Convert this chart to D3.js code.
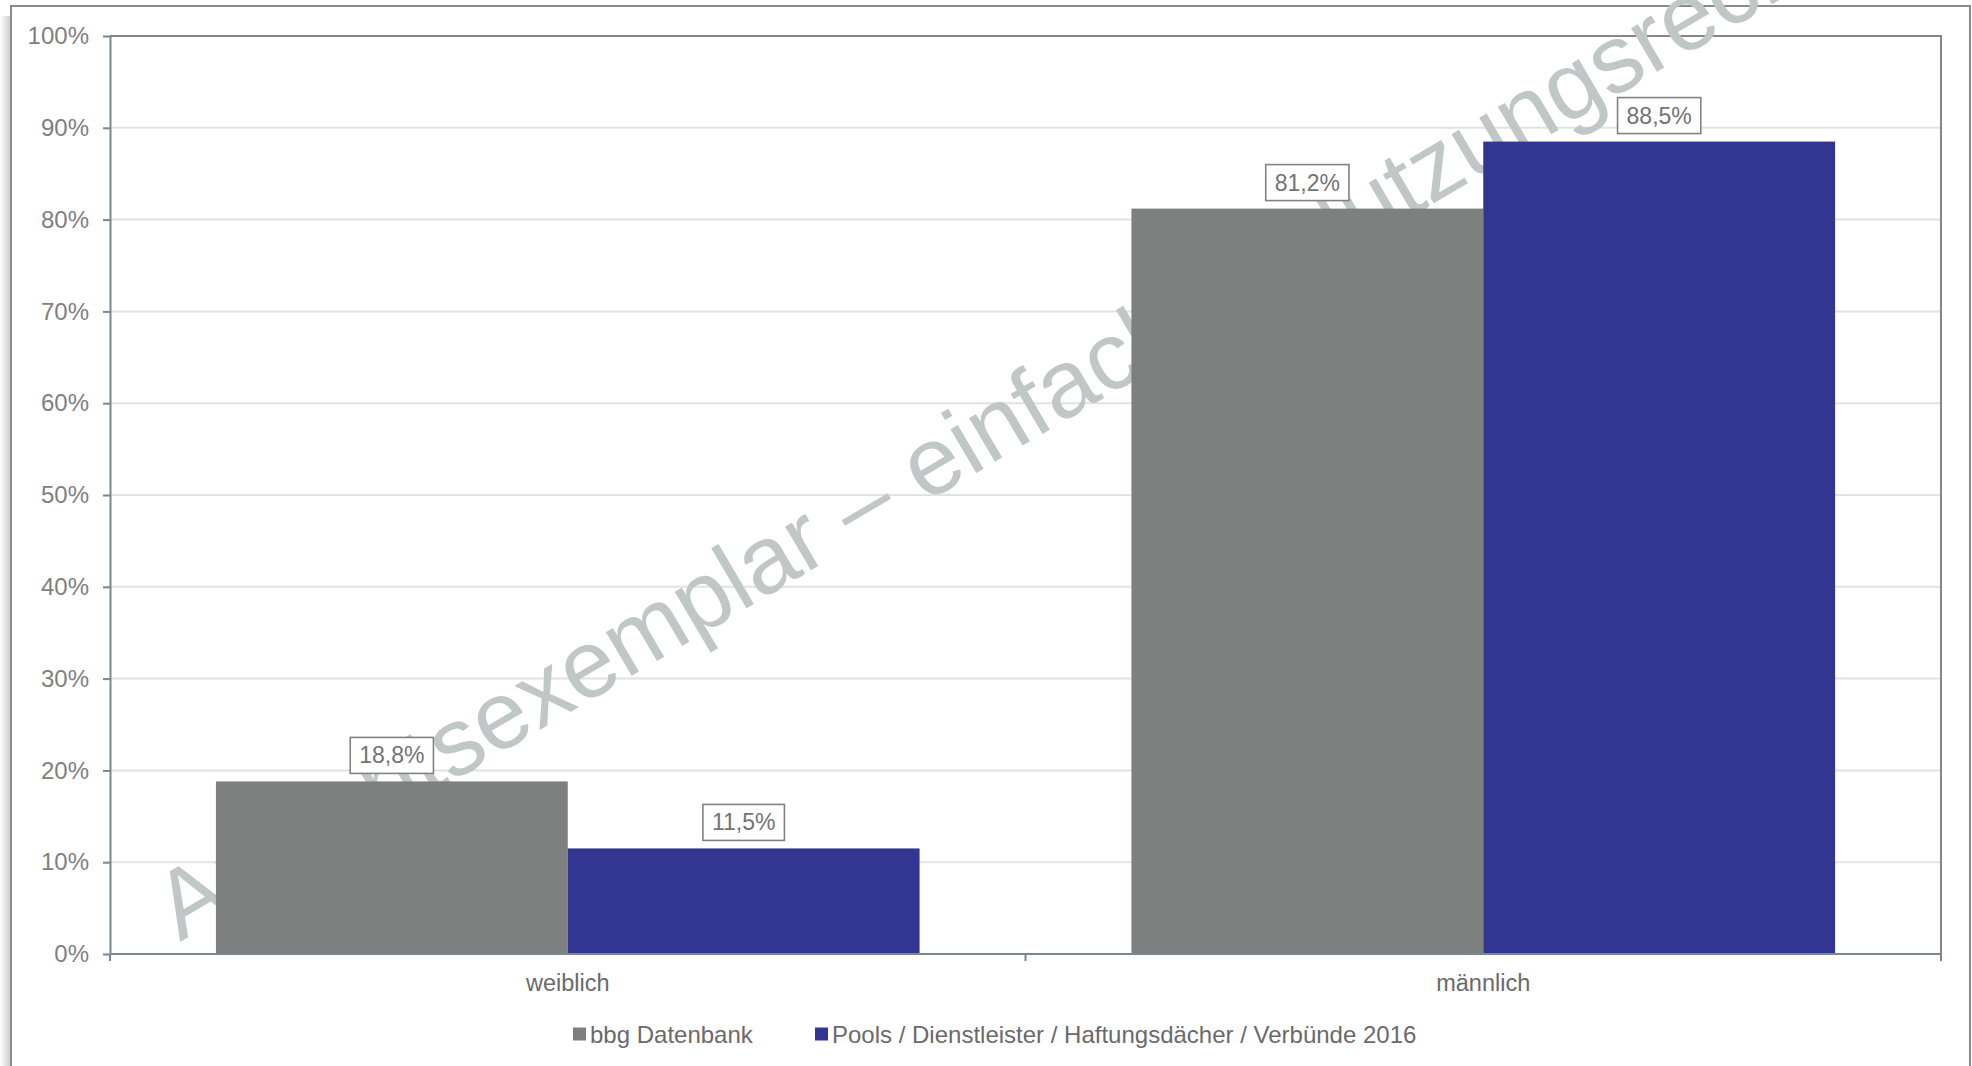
<!DOCTYPE html>
<html>
<head>
<meta charset="utf-8">
<script src="https://cdn.jsdelivr.net/npm/d3@7"></script>
<style>
  body { margin: 0; background: #fff; }
  svg { display: block; font-family: "Liberation Sans", Arial, sans-serif; }
</style>
</head>
<body>
<svg id="chart" width="1972" height="1066"></svg>
<script>
// Gender split: bbg database vs. pools / service providers / liability umbrellas / networks 2016
const categories = ["weiblich", "männlich"];
const seriesNames = ["bbg Datenbank", "Pools / Dienstleister / Haftungsdächer / Verbünde 2016"];
const bbgValues = [18.8, 81.2];
const poolValues = [11.5, 88.5];
const yTicks = [0, 10, 20, 30, 40, 50, 60, 70, 80, 90, 100];
const seriesColors = ["#7e807f", "#333593"];
const watermarkText = "Ansichtsexemplar – einfaches Nutzungsrecht";

const seriesValues = [bbgValues, poolValues];
const rows = categories.map((c, i) => ({
  category: c,
  values: seriesValues.map((vals, s) => ({ series: s, value: vals[i] }))
}));

const W = 1972, H = 1066;
const plot = { left: 110, right: 1941, top: 36, bottom: 954 };

const svg = d3.select("#chart");

const fmtPct = v => d3.format(".1f")(v).replace(".", ",") + "%";

// Scales
const x0 = d3.scaleBand()
  .domain(categories)
  .range([plot.left, plot.right])
  .paddingInner(0.2314)
  .paddingOuter(0.1157);
const x1 = d3.scaleBand()
  .domain(d3.range(seriesNames.length))
  .range([0, x0.bandwidth()]);
const y = d3.scaleLinear().domain([0, 100]).range([plot.bottom, plot.top]);

// Soft shadow along the left edge of the outer frame
const defs = svg.append("defs");
const grad = defs.append("linearGradient").attr("id", "leftShade")
  .attr("x1", "0").attr("x2", "1").attr("y1", "0").attr("y2", "0");
grad.append("stop").attr("offset", "0").attr("stop-color", "#ffffff");
grad.append("stop").attr("offset", "1").attr("stop-color", "#cfcfcf");
svg.append("rect").attr("x", 0).attr("y", 16).attr("width", 10).attr("height", H - 16)
  .attr("fill", "url(#leftShade)");

// Outer frame
svg.append("path")
  .attr("d", `M11,${H} V6 H1970 V${H}`)
  .attr("fill", "none").attr("stroke", "#8a8a8a").attr("stroke-width", 2);

// Horizontal gridlines
svg.append("g").selectAll("line")
  .data(yTicks.filter(t => t > 0 && t < 100))
  .join("line")
  .attr("x1", plot.left).attr("x2", plot.right)
  .attr("y1", d => y(d)).attr("y2", d => y(d))
  .attr("stroke", "#e2e2e2").attr("stroke-width", 2);

// Plot frame (top and right)
svg.append("path")
  .attr("d", `M${plot.left},${y(100)} H${plot.right} V${plot.bottom}`)
  .attr("fill", "none").attr("stroke", "#868686").attr("stroke-width", 2);

// Watermark
svg.append("text")
  .attr("transform", "translate(180,942) rotate(-30.5)")
  .attr("font-size", 96)
  .attr("fill", "#c1c7c6")
  .text(watermarkText);

// Bars
const groups = svg.append("g").selectAll("g")
  .data(rows)
  .join("g")
  .attr("transform", d => `translate(${x0(d.category)},0)`);

groups.selectAll("rect")
  .data(d => d.values)
  .join("rect")
  .attr("x", d => x1(d.series))
  .attr("width", x1.bandwidth())
  .attr("y", d => y(d.value))
  .attr("height", d => y(0) - y(d.value))
  .attr("fill", d => seriesColors[d.series]);

// Value labels in boxes
const labels = groups.selectAll("g.lbl")
  .data(d => d.values)
  .join("g")
  .attr("class", "lbl")
  .attr("transform", d => `translate(${x1(d.series) + x1.bandwidth() / 2},${y(d.value) - 8})`);

labels.each(function (d) {
  const g = d3.select(this);
  const rect = g.append("rect");
  const t = g.append("text")
    .attr("text-anchor", "middle")
    .attr("y", -10)
    .attr("font-size", 23)
    .attr("fill", "#737373")
    .text(fmtPct(d.value));
  const w = t.node().getComputedTextLength() + 18;
  rect.attr("x", -w / 2).attr("y", -36).attr("width", w).attr("height", 36)
    .attr("fill", "#fff").attr("stroke", "#828282").attr("stroke-width", 1.6);
});

// Y axis
const yAxis = d3.axisLeft(y)
  .tickValues(yTicks)
  .tickFormat(d => d + "%")
  .tickSize(7)
  .tickSizeOuter(0)
  .tickPadding(14);
const yg = svg.append("g").attr("transform", `translate(${plot.left},0)`).call(yAxis);
yg.select(".domain").attr("stroke", "#7a8790").attr("stroke-width", 2);
yg.selectAll(".tick line").attr("stroke", "#7a8790").attr("stroke-width", 2);
yg.selectAll(".tick text")
  .attr("font-size", 24).attr("fill", "#808080")
  .attr("font-family", "\"Liberation Sans\", Arial, sans-serif");

// X axis: baseline, boundary ticks, category labels
const xg = svg.append("g");
xg.append("line")
  .attr("x1", plot.left).attr("x2", plot.right)
  .attr("y1", plot.bottom).attr("y2", plot.bottom)
  .attr("stroke", "#7a8790").attr("stroke-width", 2);
const boundaries = d3.range(categories.length + 1).map(i => plot.left + i * (plot.right - plot.left) / categories.length);
xg.selectAll("line.tk")
  .data(boundaries)
  .join("line")
  .attr("class", "tk")
  .attr("x1", d => d).attr("x2", d => d)
  .attr("y1", plot.bottom).attr("y2", plot.bottom + 7)
  .attr("stroke", "#7a8790").attr("stroke-width", 2);
xg.selectAll("text")
  .data(categories)
  .join("text")
  .attr("x", d => x0(d) + x0.bandwidth() / 2)
  .attr("y", 991)
  .attr("text-anchor", "middle")
  .attr("font-size", 23.5)
  .attr("fill", "#6a6a6a")
  .text(d => d);

// Legend
const legendX = [573, 815];
const legend = svg.append("g").selectAll("g")
  .data(seriesNames)
  .join("g")
  .attr("transform", (d, i) => `translate(${legendX[i]},1034)`);
legend.append("rect")
  .attr("x", 0).attr("y", -6.5).attr("width", 13).attr("height", 13)
  .attr("fill", (d, i) => seriesColors[i]);
legend.append("text")
  .attr("x", 17).attr("y", 8.5)
  .attr("font-size", 24)
  .attr("fill", "#6a6a6a")
  .text(d => d);
</script>
</body>
</html>
